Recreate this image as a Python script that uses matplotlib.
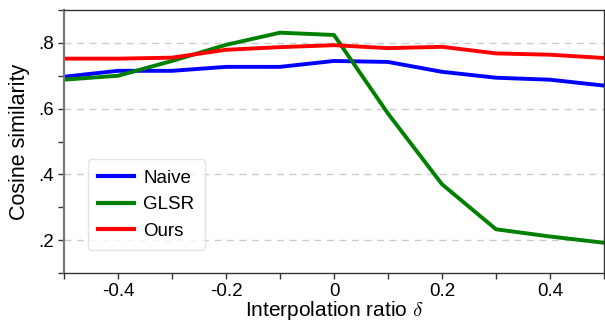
import matplotlib
matplotlib.use("Agg")
import matplotlib.pyplot as plt
import numpy as np

plt.rcParams['font.family'] = ['Liberation Sans', 'DejaVu Sans']
plt.rcParams['mathtext.fontset'] = 'cm'

x = [-0.5, -0.4, -0.3, -0.2, -0.1, 0.0, 0.1, 0.2, 0.3, 0.4, 0.5]
naive = [0.697, 0.715, 0.715, 0.727, 0.727, 0.745, 0.742, 0.712, 0.694, 0.688, 0.670]
glsr = [0.688, 0.700, 0.745, 0.794, 0.831, 0.824, 0.585, 0.370, 0.233, 0.211, 0.192]
ours = [0.752, 0.752, 0.755, 0.779, 0.787, 0.793, 0.784, 0.788, 0.768, 0.764, 0.754]

xticks = [-0.4, -0.2, 0.0, 0.2, 0.4]
xticklabels = ['-0.4', '-0.2', '0', '0.2', '0.4']
yticks = [0.2, 0.4, 0.6, 0.8]
yticklabels = ['.2', '.4', '.6', '.8']

fig = plt.figure(figsize=(6.05, 3.23), dpi=100)
ax = fig.add_axes([64/605, 1 - 273/323, 540/605, 263/323])

ax.plot(x, naive, color='blue', lw=2.8, label='Naive')
ax.plot(x, glsr, color='green', lw=2.8, label='GLSR')
ax.plot(x, ours, color='red', lw=2.8, label='Ours')

ax.set_xlim(-0.5, 0.5)
ax.set_ylim(0.1, 0.9)
ax.set_xticks(xticks)
ax.set_xticklabels(xticklabels)
ax.set_xticks(np.arange(-0.5, 0.51, 0.1), minor=True)
ax.set_yticks(yticks)
ax.set_yticklabels(yticklabels)
ax.set_yticks(np.arange(0.1, 0.91, 0.1), minor=True)
for yv in yticks:
    ax.axhline(yv, color='#cccccc', lw=1.0, ls=(0, (5, 4)), zorder=0)

ax.tick_params(axis='both', which='both', direction='out', length=4, width=1.0,
               colors='#333333', labelcolor='black', labelsize=13.5)
ax.tick_params(axis='both', which='major', pad=3)

for s in ['top', 'right', 'bottom']:
    ax.spines[s].set_color('#333333')
    ax.spines[s].set_linewidth(1.0)
ax.spines['left'].set_color('#777777')
ax.spines['left'].set_linewidth(1.6)

ax.set_xlabel(r'Interpolation ratio $\delta$', fontsize=15, labelpad=-0.3)
ax.set_ylabel('Cosine similarity', fontsize=15.5, labelpad=6)

leg = ax.legend(loc='lower left', bbox_to_anchor=(0.044, 0.087), fontsize=13.5,
                frameon=True, fancybox=True, edgecolor='#dddddd', borderaxespad=0,
                handlelength=1.9, handletextpad=0.5, borderpad=0.55, labelspacing=0.5)
for l in leg.get_lines():
    l.set_linewidth(3)

fig.savefig('out.png', dpi=100)
